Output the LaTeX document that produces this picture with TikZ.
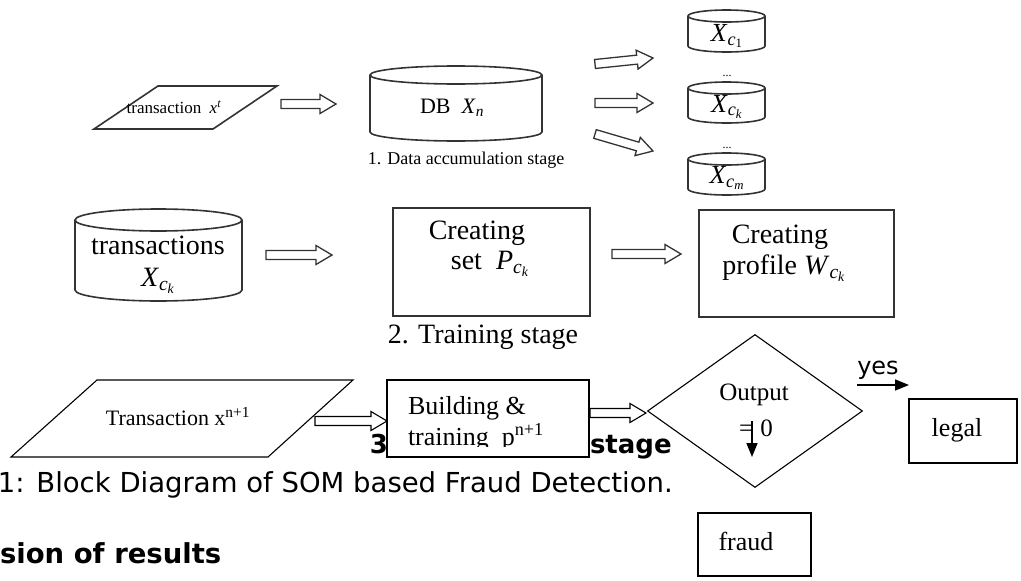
\documentclass[tikz,border=0pt]{standalone}
\usepackage{fontspec}
\setmainfont{Liberation Serif}
\newfontfamily\capfont{DejaVu Sans}
\usetikzlibrary{calc,arrows.meta,shapes.geometric}
\newcommand\fsz[1]{\fontsize{#1}{#1}\selectfont}
\newcommand\drawcyl[3]{%
  \draw[scanline] ([yshift=-#3]#1.north west) -- ([yshift=#3]#1.south west)
     arc[start angle=180,end angle=360,x radius=#2,y radius=#3] -- ([yshift=-#3]#1.north east);
  \draw[scanline] ([yshift=-#3]#1.north) ellipse[x radius=#2,y radius=#3];}
\tikzset{
  scanline/.style={draw=black!80, line width=1.6pt},
  plain/.style={draw=black, line width=1.1pt},
  lbl/.style={inner sep=0pt, outer sep=0pt},
  shape box/.style={inner sep=0pt, outer sep=0pt},
  harrow/.style={draw=black!80, line width=1.3pt, fill=white, line join=miter,
    to path={let \p1=(\tikztostart), \p2=(\tikztotarget),
      \n1={atan2(\y2-\y1,\x2-\x1)}, \n2={veclen(\x2-\x1,\y2-\y1)-16pt} in
      ($(\tikztostart)+(\n1+90:4.5pt)$) -- ($(\tikztostart)+(\n1:{\n2*1pt})+(\n1+90:4.5pt)$)
      -- ($(\tikztostart)+(\n1:{\n2*1pt})+(\n1+90:9.5pt)$) -- (\tikztotarget)
      -- ($(\tikztostart)+(\n1:{\n2*1pt})+(\n1-90:9.5pt)$) -- ($(\tikztostart)+(\n1:{\n2*1pt})+(\n1-90:4.5pt)$)
      -- ($(\tikztostart)+(\n1-90:4.5pt)$) -- cycle}},
  solidarrow/.style={draw=black, line width=1.6pt, -{Triangle[length=14pt,width=11pt]}},
}
\begin{document}
\begin{tikzpicture}[x=1pt,y=-1pt]
\useasboundingbox (0,0) rectangle (1021,581);
% ---------- stage 1
\draw[scanline] (158,86) -- (277,86) -- (213,129) -- (94,129) -- cycle;
\node[lbl, font=\fsz{17}] (tx) at (174,107) {transaction\ \ \textit{x}\textsuperscript{\textit{t}}};
\coordinate (a1s) at (281,104); \coordinate (a1e) at (336,104);
\draw[harrow] (a1s) to (a1e);
\node[shape box, minimum width=172pt, minimum height=75pt] (db) at (456,103.5) {};
\drawcyl{db}{86pt}{9pt}
\node[lbl, font=\fsz{22}] (dbt) at (452,108) {DB\ \ \textit{X}\textsubscript{\textit{n}}};
\coordinate (s1) at (595,64); \coordinate (e1) at (653,58);
\coordinate (s2) at (595,103); \coordinate (e2) at (653,103);
\coordinate (s3) at (595,134); \coordinate (e3) at (653,151);
\draw[harrow] (s1) to (e1);
\draw[harrow] (s2) to (e2);
\draw[harrow] (s3) to (e3);
\node[shape box, minimum width=77pt, minimum height=42pt] (c1) at (726.5,31) {};
\node[shape box, minimum width=77pt, minimum height=41pt] (c2) at (726.5,102.5) {};
\node[shape box, minimum width=77pt, minimum height=42pt] (c3) at (726.5,174) {};
\drawcyl{c1}{38.5pt}{6pt}
\drawcyl{c2}{38.5pt}{6pt}
\drawcyl{c3}{38.5pt}{6pt}
\node[lbl, font=\fsz{26}] (c1t) at (727,36) {\textit{X}\textsubscript{\textit{c}\textsubscript{1}}};
\node[lbl, font=\fsz{26}] (c2t) at (727,107) {\textit{X}\textsubscript{\textit{c}\textsubscript{\textit{k}}}};
\node[lbl, font=\fsz{26}] (c3t) at (727,178) {\textit{X}\textsubscript{\textit{c}\textsubscript{\textit{m}}}};
\node[lbl, font=\fsz{12}] (d1) at (727,76) {...};
\node[lbl, font=\fsz{12}] (d2) at (727,148) {...};
\node[lbl, font=\fsz{18}] (st1) at (466,160) {1. Data accumulation stage};
% ---------- stage 2
\node[shape box, minimum width=167pt, minimum height=92pt] (tc) at (158.5,255) {};
\drawcyl{tc}{83.5pt}{11pt}
\node[lbl, font=\fsz{28}] (tct) at (158,245) {transactions};
\node[lbl, font=\fsz{28}] (tcx) at (158,281) {\textit{X}\textsubscript{\textit{c}\textsubscript{\textit{k}}}};
\coordinate (m1s) at (266,255); \coordinate (m1e) at (332,255);
\draw[harrow] (m1s) to (m1e);
\node[shape box, scanline, minimum width=197pt, minimum height=108pt] (setb) at (491.5,262) {};
\node[lbl, font=\fsz{28}] (setb1) at (477,233) {Creating};
\node[lbl, font=\fsz{28}] (setb2) at (490,264) {set\ \ \textit{P}\textsubscript{\textit{c}\textsubscript{\textit{k}}}};
\coordinate (m2s) at (612,254); \coordinate (m2e) at (681,254);
\draw[harrow] (m2s) to (m2e);
\node[shape box, scanline, minimum width=195pt, minimum height=107pt] (prof) at (796.5,263.5) {};
\node[lbl, font=\fsz{28}] (prof1) at (780,237) {Creating};
\node[lbl, font=\fsz{28}] (prof2) at (784,268) {profile \textit{W}\textsubscript{\textit{c}\textsubscript{\textit{k}}}};
\node[lbl, font=\fsz{28}] (st2) at (483,337) {2. Training stage};
% ---------- stage 3
\node[lbl, anchor=base east, font=\capfont\bfseries\fsz{26}] (h3) at (388,453) {3};
\node[lbl, anchor=base west, font=\capfont\bfseries\fsz{26}] (hst) at (590,453) {stage};
\draw[plain, fill=white] (97,380) -- (353,380) -- (268,457) -- (11,457) -- cycle;
\node[lbl, anchor=base, font=\fsz{22}] (trn) at (178,425) {Transaction x\textsuperscript{n+1}};
\coordinate (b1s) at (315,421); \coordinate (b1e) at (387,421);
\draw[harrow, draw=black, line width=1.1pt] (b1s) to (b1e);
\node[shape box, plain, fill=white, minimum width=202pt, minimum height=77pt] (build) at (488,418.5) {};
\begin{scope}
  \clip (build.north west) rectangle ([yshift=11pt]build.south east);
  \node[lbl, anchor=base west, font=\fsz{26}] (bu1) at (408,414) {Building \&};
  \node[lbl, anchor=base west, font=\fsz{26}] (bu2) at (408,445) {training\ \ p\textsuperscript{n+1}};
\end{scope}
\coordinate (b2s) at (590,413); \coordinate (b2e) at (646,413);
\draw[harrow, draw=black, line width=1.1pt] (b2s) to (b2e);
\node[diamond, plain, minimum width=215pt, minimum height=153pt, inner sep=0pt] (dec) at (755,411) {};
\node[lbl, font=\fsz{25}] (out1) at (754,395) {Output};
\node[lbl, font=\fsz{25}] (out2) at (756,428) {=\hspace{7pt}0};
\coordinate (dn1) at (752,421); \coordinate (dn2) at (752,457);
\draw[solidarrow] (dn1) -- (dn2);
\node[lbl, anchor=base, font=\capfont\fsz{24}] (yes) at (878,374) {yes};
\coordinate (y1) at (857,385); \coordinate (y2) at (909,385);
\draw[solidarrow] (y1) -- (y2);
\node[shape box, plain, minimum width=108pt, minimum height=64pt] (legal) at (963,431) {};
\node[lbl, font=\fsz{26}] (legalt) at (957,430) {legal};
\node[shape box, plain, minimum width=113pt, minimum height=63pt] (fraud) at (754.5,544.5) {};
\node[lbl, font=\fsz{26}] (fraudt) at (746,541) {fraud};
% ---------- caption
\node[lbl, anchor=base west, font=\capfont\fsz{27.5}] (cap) at (-2,492) {1: Block Diagram of SOM based Fraud Detection.};
\node[lbl, anchor=base west, font=\capfont\bfseries\fsz{27.5}] (disc) at (0,563) {sion of results};
\end{tikzpicture}
\end{document}
